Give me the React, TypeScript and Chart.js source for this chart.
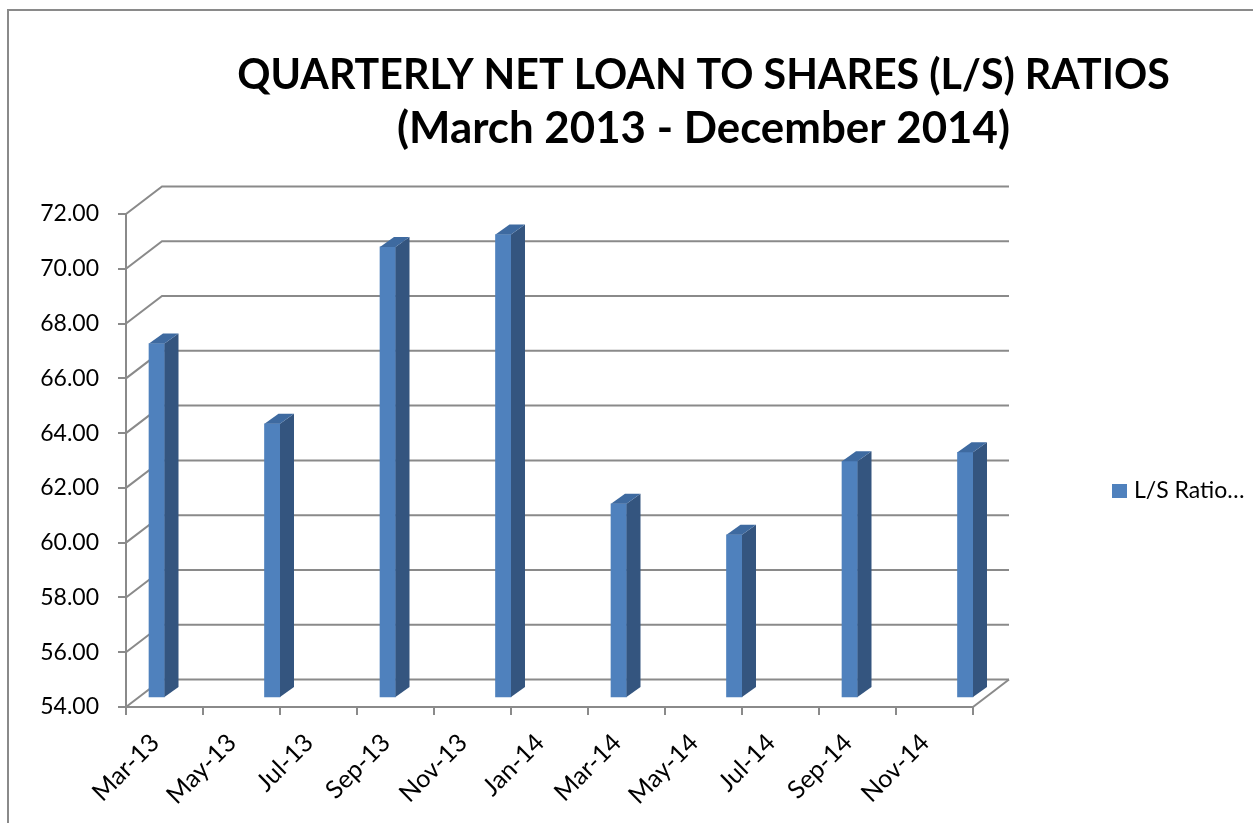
import React, { useEffect, useRef } from 'react';
import { Chart, registerables } from 'chart.js';

Chart.register(...registerables);

// ---- data ----
const TITLE_LINES = ['QUARTERLY NET LOAN TO SHARES (L/S) RATIOS', '(March 2013 - December 2014)'];
const SERIES_LABEL = 'L/S Ratio…';
const QUARTER_DATES = ['2013-03', '2013-06', '2013-09', '2013-12', '2014-03', '2014-06', '2014-09', '2014-12'];
const LS_RATIOS = [66.94, 64.01, 70.47, 70.92, 61.09, 59.96, 62.64, 62.97];
const X_TICK_LABELS = ['Mar-13', 'May-13', 'Jul-13', 'Sep-13', 'Nov-13', 'Jan-14', 'Mar-14', 'May-14', 'Jul-14', 'Sep-14', 'Nov-14'];
const AXIS_START = '2013-03';
const AXIS_MONTHS = 22;
const Y_MIN = 54;
const Y_MAX = 72;
const Y_STEP = 2;

// ---- style ----
const FONT = 'Lato';
const GRID = '#8a8a8a';
const FRONT = '#4F81BD';
const SIDE = '#34557F';
const TOP = '#3E6AA0';
const WALL_DX = 36;
const WALL_DY = -27.5;
const BAR_DX = 11.5;
const BAR_DY = -9;
const BAR_DEPTH_X = 14;
const BAR_DEPTH_Y = -10;
const TITLE_WIDTHS = [933, 613];
const TITLE_BASELINES = [89, 143];

function monthsFromStart(d: string): number {
  const [y, m] = d.split('-').map(Number);
  const [y0, m0] = AXIS_START.split('-').map(Number);
  return (y - y0) * 12 + (m - m0);
}

const threeD = {
  id: 'threeD',
  beforeDraw(chart: any) {
    const { ctx, width, height } = chart;
    ctx.save();
    ctx.fillStyle = '#ffffff';
    ctx.fillRect(0, 0, width, height);
    ctx.strokeStyle = '#8a8a8a';
    ctx.lineWidth = 2;
    ctx.beginPath();
    ctx.moveTo(8, height);
    ctx.lineTo(8, 10);
    ctx.lineTo(width, 10);
    ctx.stroke();
    ctx.restore();
  },
  beforeDatasetsDraw(chart: any) {
    const { ctx, chartArea: a, scales } = chart;
    const y = scales.y;
    ctx.save();
    ctx.strokeStyle = GRID;
    ctx.lineWidth = 2;
    y.ticks.forEach((t: any) => {
      const py = y.getPixelForValue(t.value);
      ctx.beginPath();
      ctx.moveTo(a.left, py);
      ctx.lineTo(a.left + WALL_DX, py + WALL_DY);
      ctx.lineTo(a.right + WALL_DX, py + WALL_DY);
      ctx.stroke();
    });
    ctx.beginPath();
    ctx.moveTo(a.right, a.bottom);
    ctx.lineTo(a.right + WALL_DX, a.bottom + WALL_DY);
    ctx.stroke();
    ctx.restore();
    ctx.save();
    ctx.translate(BAR_DX, BAR_DY);
  },
  afterDatasetsDraw(chart: any) {
    const { ctx } = chart;
    const meta = chart.getDatasetMeta(0);
    meta.data.forEach((el: any) => {
      const { x, y, base, width } = el.getProps(['x', 'y', 'base', 'width'], true);
      const l = x - width / 2;
      const r = x + width / 2;
      ctx.fillStyle = SIDE;
      ctx.beginPath();
      ctx.moveTo(r, y);
      ctx.lineTo(r + BAR_DEPTH_X, y + BAR_DEPTH_Y);
      ctx.lineTo(r + BAR_DEPTH_X, base + BAR_DEPTH_Y);
      ctx.lineTo(r, base);
      ctx.closePath();
      ctx.fill();
      ctx.fillStyle = TOP;
      ctx.beginPath();
      ctx.moveTo(l, y);
      ctx.lineTo(l + BAR_DEPTH_X, y + BAR_DEPTH_Y);
      ctx.lineTo(r + BAR_DEPTH_X, y + BAR_DEPTH_Y);
      ctx.lineTo(r, y);
      ctx.closePath();
      ctx.fill();
    });
    ctx.restore();
  },
  afterDraw(chart: any) {
    const { ctx } = chart;
    ctx.save();
    // title
    ctx.fillStyle = '#000000';
    ctx.textAlign = 'center';
    ctx.textBaseline = 'alphabetic';
    TITLE_LINES.forEach((line, i) => {
      ctx.font = `bold 100px ${FONT}`;
      const w = ctx.measureText(line).width;
      const size = (100 * TITLE_WIDTHS[i]) / w;
      ctx.font = `bold ${size}px ${FONT}`;
      ctx.fillText(line, 703.5, TITLE_BASELINES[i]);
    });
    // legend
    ctx.fillStyle = FRONT;
    ctx.fillRect(1112, 484, 15, 14);
    ctx.fillStyle = '#000000';
    ctx.textAlign = 'left';
    ctx.font = `23px ${FONT}`;
    ctx.fillText(SERIES_LABEL, 1134, 498);
    ctx.restore();
  },
};

export default function App() {
  const ref = useRef<HTMLCanvasElement | null>(null);

  useEffect(() => {
    if (!ref.current) return;
    const points = QUARTER_DATES.map((d, i) => ({ x: monthsFromStart(d) + 0.5, y: LS_RATIOS[i] }));
    const chart = new Chart(ref.current, {
      type: 'bar',
      data: {
        datasets: [
          {
            label: SERIES_LABEL,
            data: points as any,
            backgroundColor: FRONT,
            borderWidth: 0,
            barThickness: 15.5,
            base: Y_MIN,
            clip: false,
          } as any,
        ],
      },
      plugins: [threeD],
      options: {
        responsive: false,
        devicePixelRatio: 1,
        animation: false,
        layout: { padding: { left: 0, top: 214, right: 280, bottom: 0 } },
        plugins: {
          legend: { display: false },
          title: { display: false },
          tooltip: { enabled: false },
        },
        scales: {
          x: {
            type: 'linear',
            min: 0,
            max: AXIS_MONTHS,
            offset: false,
            afterFit: (s: any) => {
              s.height = 116;
            },
            grid: { offset: false, drawOnChartArea: false, drawTicks: true, tickLength: 8, color: GRID, lineWidth: 2 },
            border: { display: true, color: GRID, width: 2 },
            ticks: {
              stepSize: 2,
              autoSkip: false,
              maxRotation: 45,
              minRotation: 45,
              padding: 13,
              labelOffset: 29,
              color: '#000000',
              font: { family: FONT, size: 25 },
              callback: (v: any) => X_TICK_LABELS[Math.round(Number(v) / 2)] ?? '',
            },
          },
          y: {
            type: 'linear',
            min: Y_MIN,
            max: Y_MAX,
            afterFit: (s: any) => {
              s.width = 126;
            },
            grid: { drawOnChartArea: false, drawTicks: true, tickLength: 8, color: GRID, lineWidth: 2 },
            border: { display: true, color: GRID, width: 2 },
            ticks: {
              stepSize: Y_STEP,
              padding: 19,
              color: '#000000',
              font: { family: FONT, size: 23 },
              callback: (v: any) => Number(v).toFixed(2),
            },
          },
        },
      } as any,
    });
    return () => chart.destroy();
  }, []);

  return (
    <div style={{ position: 'fixed', left: 0, top: 0, width: 1253, height: 823, background: '#fff' }}>
      <canvas ref={ref} width={1253} height={823} style={{ display: 'block', width: 1253, height: 823 }} />
    </div>
  );
}
